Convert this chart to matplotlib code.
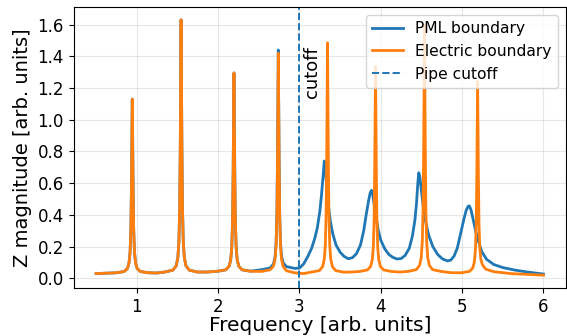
import matplotlib
matplotlib.use("Agg")
import matplotlib.pyplot as plt
import numpy as np

# shared part below ~2.4 (both boundaries give the same curve there)
low_f = [0.5, 0.745, 0.845, 0.885, 0.905, 0.918, 0.928, 0.935, 0.945, 0.955, 0.962, 0.972, 0.985, 1.005, 1.045, 1.145,
         1.25, 1.345, 1.445, 1.485, 1.505, 1.518, 1.528, 1.535, 1.545, 1.555, 1.562, 1.572, 1.585, 1.605, 1.645, 1.745,
         1.87, 1.995, 2.095, 2.135, 2.155, 2.168, 2.178, 2.185, 2.195, 2.205, 2.212, 2.222, 2.235, 2.255, 2.295, 2.395]
low_z = [0.030, 0.035, 0.043, 0.062, 0.097, 0.165, 0.315, 0.58, 1.13, 0.58, 0.315, 0.165, 0.097, 0.062, 0.043, 0.035,
         0.034, 0.040, 0.052, 0.079, 0.13, 0.229, 0.446, 0.833, 1.63, 0.833, 0.446, 0.229, 0.13, 0.079, 0.052, 0.040,
         0.040, 0.045, 0.054, 0.076, 0.116, 0.194, 0.364, 0.668, 1.295, 0.668, 0.364, 0.194, 0.116, 0.076, 0.054, 0.045]

# electric boundary above 2.4
elec_f = [2.47,
          2.54, 2.64, 2.68, 2.70, 2.713, 2.723, 2.73, 2.74, 2.75, 2.757, 2.767, 2.78, 2.80, 2.84, 2.94,
          3.05,
          3.145, 3.245, 3.285, 3.305, 3.318, 3.328, 3.335, 3.345, 3.355, 3.362, 3.372, 3.385, 3.405, 3.445, 3.545,
          3.64,
          3.735, 3.835, 3.875, 3.895, 3.908, 3.918, 3.925, 3.935, 3.945, 3.952, 3.962, 3.975, 3.995, 4.035, 4.135,
          4.24,
          4.337, 4.437, 4.477, 4.497, 4.51, 4.52, 4.527, 4.537, 4.547, 4.554, 4.564, 4.577, 4.597, 4.637, 4.737,
          4.86,
          4.99, 5.09, 5.13, 5.15, 5.163, 5.173, 5.18, 5.19, 5.20, 5.207, 5.217, 5.23, 5.25, 5.29, 5.39,
          5.6, 6.0]
elec_z = [0.044,
          0.044, 0.054, 0.077, 0.121, 0.207, 0.395, 0.73, 1.42, 0.73, 0.395, 0.205, 0.118, 0.074, 0.048, 0.035,
          0.030,
          0.039, 0.049, 0.074, 0.12, 0.21, 0.408, 0.76, 1.485, 0.76, 0.408, 0.21, 0.12, 0.074, 0.049, 0.039,
          0.040,
          0.043, 0.053, 0.075, 0.116, 0.197, 0.373, 0.688, 1.335, 0.688, 0.373, 0.197, 0.116, 0.075, 0.053, 0.043,
          0.040,
          0.044, 0.055, 0.082, 0.132, 0.229, 0.441, 0.82, 1.60, 0.82, 0.441, 0.229, 0.132, 0.082, 0.055, 0.044,
          0.036,
          0.035, 0.044, 0.065, 0.103, 0.178, 0.343, 0.637, 1.24, 0.637, 0.35, 0.19, 0.12, 0.085, 0.058, 0.042,
          0.030, 0.020]

# PML boundary above 2.4
pml_f = [2.47,
         2.54, 2.64, 2.68, 2.70, 2.713, 2.723, 2.73, 2.74, 2.75, 2.757, 2.767, 2.78, 2.80, 2.84, 2.94,
         3.0, 3.05, 3.1, 3.15, 3.19, 3.22, 3.25, 3.27, 3.29, 3.305, 3.32, 3.34, 3.36, 3.38, 3.41,
         3.45, 3.5, 3.55, 3.6, 3.65,
         3.7, 3.75, 3.79, 3.82, 3.85, 3.87, 3.885, 3.9, 3.92, 3.94, 3.97, 4.0, 4.05, 4.1, 4.15,
         4.2, 4.25,
         4.3, 4.35, 4.39, 4.42, 4.44, 4.455, 4.467, 4.48, 4.5, 4.52, 4.55, 4.59, 4.64, 4.7, 4.76,
         4.82, 4.86,
         4.9, 4.94, 4.98, 5.02, 5.05, 5.075, 5.09, 5.11, 5.14, 5.17, 5.2, 5.24, 5.3, 5.39,
         5.5, 5.65, 5.8, 6.0]
pml_z = [0.050,
         0.055, 0.066, 0.09, 0.134, 0.22, 0.41, 0.75, 1.44, 0.75, 0.41, 0.225, 0.14, 0.097, 0.074, 0.063,
         0.065, 0.09, 0.135, 0.19, 0.255, 0.32, 0.42, 0.52, 0.64, 0.74, 0.68, 0.55, 0.44, 0.36, 0.28,
         0.21, 0.165, 0.138, 0.124, 0.13,
         0.155, 0.21, 0.30, 0.40, 0.49, 0.54, 0.555, 0.53, 0.46, 0.39, 0.30, 0.24, 0.185, 0.15, 0.132,
         0.122, 0.125,
         0.145, 0.19, 0.27, 0.37, 0.48, 0.60, 0.666, 0.64, 0.55, 0.46, 0.36, 0.27, 0.20, 0.15, 0.122,
         0.110, 0.115,
         0.14, 0.19, 0.28, 0.37, 0.43, 0.455, 0.456, 0.43, 0.36, 0.29, 0.234, 0.17, 0.12, 0.087,
         0.068, 0.052, 0.040, 0.027]

cutoff = 3.0

fig = plt.figure(figsize=(5.67, 3.36), dpi=100)
ax = fig.add_axes([0.130, 0.143, 0.868, 0.836])

ax.plot(low_f + pml_f, low_z + pml_z, color="tab:blue", lw=2.0, label="PML boundary")
ax.plot(low_f + elec_f, low_z + elec_z, color="tab:orange", lw=2.0, label="Electric boundary")
ax.axvline(cutoff, color="tab:blue", ls="--", lw=1.4, label="Pipe cutoff")
ax.text(3.16, 1.30, "cutoff", rotation=90, ha="center", va="center", fontsize=13)

ax.set_xlabel("Frequency [arb. units]", fontsize=14.5, labelpad=0)
ax.set_ylabel("Z magnitude [arb. units]", fontsize=14)
ax.tick_params(labelsize=12)
ax.set_yticks(np.arange(0, 1.61, 0.2))
ax.grid(True, alpha=0.3)
ax.legend(loc="upper right", fontsize=11.2)

fig.savefig("out.png", dpi=100)
